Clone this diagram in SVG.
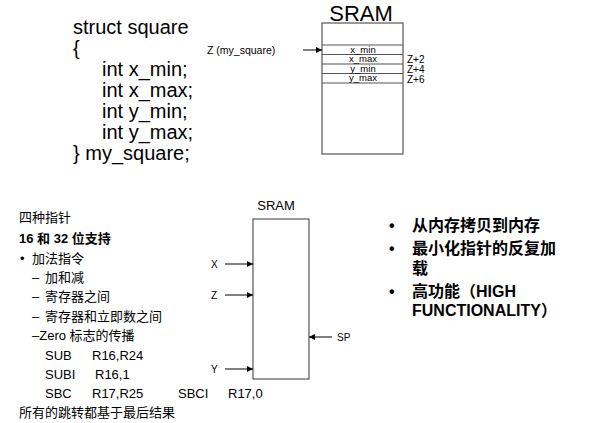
<svg xmlns="http://www.w3.org/2000/svg" width="594" height="423" viewBox="0 0 594 423">
<style>
text{font-family:"Liberation Sans","Noto Sans CJK SC",sans-serif;fill:#000}
.code{font-size:20px}
.cn{font-size:13px}
.b{font-weight:bold}
.small{font-size:9.5px}
.lbl{font-size:10px}
.box{fill:#fff;stroke:#555;stroke-width:1.2}
.row{stroke:#555;stroke-width:1.2}
.arr{stroke:#000;stroke-width:1;fill:none}
.rb{font-size:16px;font-weight:bold}
</style>
<defs>
<marker id="ah" markerWidth="6" markerHeight="6" refX="6" refY="3" orient="auto" markerUnits="userSpaceOnUse">
<path d="M0,0 L6,3 L0,6 z" fill="#000"/>
</marker>
</defs>
<rect width="594" height="423" fill="#fff"/>
<g id="struct-code" class="code">
<text x="73" y="34">struct square</text>
<text x="73" y="55">{</text>
<text x="102" y="76">int x_min;</text>
<text x="102" y="97">int x_max;</text>
<text x="102" y="118">int y_min;</text>
<text x="102" y="139">int y_max;</text>
<text x="73" y="160">} my_square;</text>
</g>
<g id="sram-top">
<text x="361" y="21" font-size="22" text-anchor="middle">SRAM</text>
<rect class="box" x="322" y="23" width="81" height="131"/>
<line class="row" x1="322" y1="45" x2="403" y2="45"/>
<line class="row" x1="322" y1="54.5" x2="403" y2="54.5"/>
<line class="row" x1="322" y1="64" x2="403" y2="64"/>
<line class="row" x1="322" y1="73.5" x2="403" y2="73.5"/>
<line class="row" x1="322" y1="83" x2="403" y2="83"/>
<text class="small" x="363" y="52.5" text-anchor="middle">x_min</text>
<text class="small" x="363" y="62" text-anchor="middle">x_max</text>
<text class="small" x="363" y="71.5" text-anchor="middle">y_min</text>
<text class="small" x="363" y="81" text-anchor="middle">y_max</text>
<text class="lbl" x="407" y="63">Z+2</text>
<text class="lbl" x="407" y="73">Z+4</text>
<text class="lbl" x="407" y="83">Z+6</text>
<text x="207" y="54" font-size="10.5">Z (my_square)</text>
</g>
<g id="left-text">
<text class="cn" x="19" y="222">四种指针</text>
<text class="cn b" x="19" y="243" font-size="15">16 和 32 位支持</text>
<text class="cn" x="20" y="263">•</text>
<text class="cn" x="32" y="263">加法指令</text>
<text class="cn" x="32" y="282">–</text>
<text class="cn" x="45" y="282">加和减</text>
<text class="cn" x="32" y="301">–</text>
<text class="cn" x="45" y="301">寄存器之间</text>
<text class="cn" x="32" y="321">–</text>
<text class="cn" x="45" y="321">寄存器和立即数之间</text>
<text class="cn" x="32" y="340">–Zero 标志的传播</text>
<text class="cn" x="45" y="360">SUB</text>
<text class="cn" x="92" y="360">R16,R24</text>
<text class="cn" x="45" y="379">SUBI</text>
<text class="cn" x="95" y="379">R16,1</text>
<text class="cn" x="45" y="398">SBC</text>
<text class="cn" x="92" y="398">R17,R25</text>
<text class="cn" x="178" y="398">SBCI</text>
<text class="cn" x="228" y="398">R17,0</text>
<text class="cn" x="19" y="417">所有的跳转都基于最后结果</text>
</g>
<g id="sram-bottom">
<text x="276" y="210" font-size="13" text-anchor="middle">SRAM</text>
<rect class="box" x="253" y="219" width="56" height="160"/>
<text x="211" y="268" font-size="10">X</text>
<text x="211" y="299" font-size="10">Z</text>
<text x="211" y="373" font-size="10">Y</text>
<text x="337" y="341" font-size="10">SP</text>
</g>
<g id="right-bullets" class="rb">
<text x="389" y="231">•</text>
<text x="412" y="231">从内存拷贝到内存</text>
<text x="389" y="254">•</text>
<text x="412" y="254">最小化指针的反复加</text>
<text x="412" y="274">载</text>
<text x="389" y="297">•</text>
<text x="412" y="297">高功能（HIGH</text>
<text x="412" y="316">FUNCTIONALITY）</text>
</g>
<g id="connectors">
<line class="arr" x1="303" y1="50" x2="322" y2="50" marker-end="url(#ah)"/>
<line class="arr" x1="225" y1="264" x2="253" y2="264" marker-end="url(#ah)"/>
<line class="arr" x1="225" y1="295" x2="253" y2="295" marker-end="url(#ah)"/>
<line class="arr" x1="225" y1="369" x2="253" y2="369" marker-end="url(#ah)"/>
<line class="arr" x1="332" y1="337" x2="309" y2="337" marker-end="url(#ah)"/>
</g>
</svg>
